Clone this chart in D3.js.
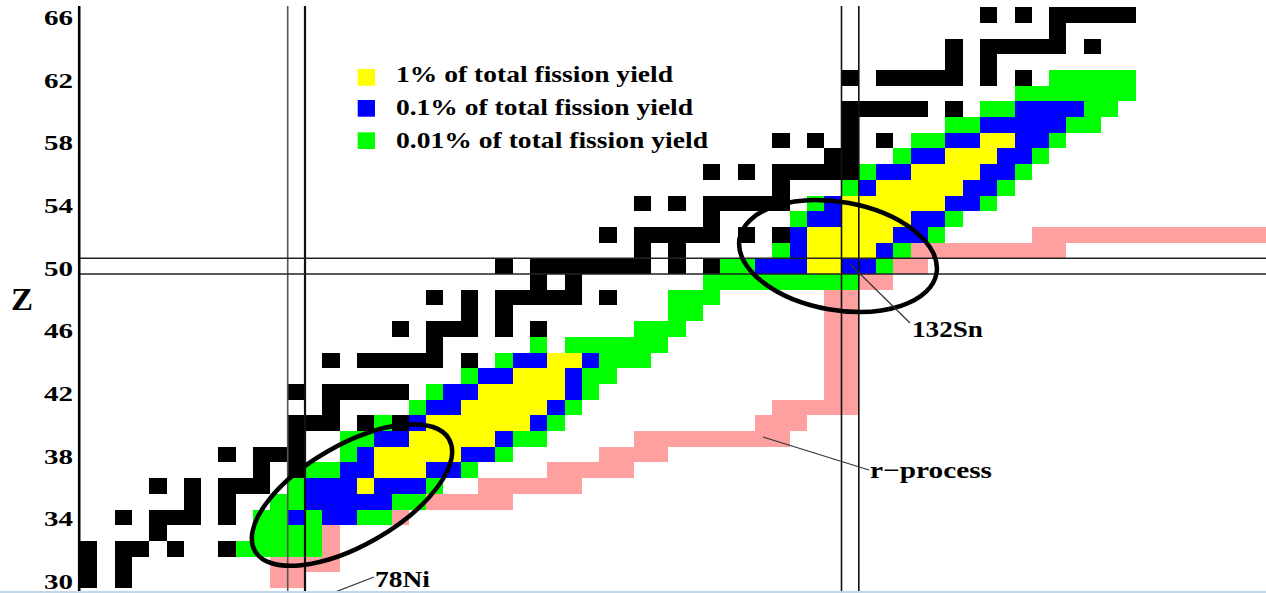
<!DOCTYPE html>
<html>
<head>
<meta charset="utf-8">
<script src="https://cdn.jsdelivr.net/npm/d3@7"></script>
<style>
  html, body { margin: 0; padding: 0; background: #fff; overflow: hidden; }
  svg { display: block; }
</style>
</head>
<body>
<svg id="chart" width="1266" height="593"></svg>
<script>
// ---- Data -------------------------------------------------------------
// Proton-number ticks on the left axis
const zTicks = [30, 34, 38, 42, 46, 50, 54, 58, 62, 66];

// Legend entries: fission-yield contour levels
const legendLabels = [
  "1% of total fission yield",
  "0.1% of total fission yield",
  "0.01% of total fission yield"
];

// Every run below is [Z, first N, last N] of contiguous cells in a row.

// Stable nuclides (black)
const stableRuns = [
  [30,38,38],[30,40,40],
  [31,38,38],[31,40,40],
  [32,38,38],[32,40,41],[32,43,43],[32,46,46],
  [33,42,42],
  [34,40,40],[34,42,44],[34,46,46],
  [35,44,44],[35,46,46],
  [36,42,42],[36,44,44],[36,46,48],
  [37,48,48],[37,50,50],
  [38,46,46],[38,48,50],
  [39,50,50],
  [40,50,52],[40,54,54],[40,56,56],
  [41,52,52],
  [42,50,50],[42,52,56],
  [44,52,52],[44,54,58],[44,60,60],
  [45,58,58],
  [46,56,56],[46,58,60],[46,62,62],[46,64,64],
  [47,60,60],[47,62,62],
  [48,58,58],[48,60,60],[48,62,66],[48,68,68],
  [49,64,64],[49,66,66],
  [50,62,62],[50,64,70],[50,72,72],[50,74,74],
  [51,70,70],[51,72,72],
  [52,68,68],[52,70,74],[52,76,76],[52,78,78],
  [53,74,74],
  [54,70,70],[54,72,72],[54,74,78],
  [55,78,78],
  [56,74,74],[56,76,76],[56,78,82],
  [57,81,82],
  [58,78,78],[58,80,80],[58,82,82],[58,84,84],
  [59,82,82],
  [60,82,86],[60,88,88],
  [62,82,82],[62,84,88],[62,90,90],[62,92,92],
  [63,88,88],[63,90,90],
  [64,88,88],[64,90,94],[64,96,96],
  [65,94,94],
  [66,90,90],[66,92,92],[66,94,98]
];

// r-process path (pink)
const rProcessRuns = [
  [30,49,50],[31,49,52],[32,52,52],[33,52,52],[34,52,56],
  [35,56,62],[36,61,66],[37,65,69],[38,68,71],[39,70,78],
  [40,77,79],[41,78,82],[42,81,82],[43,81,82],[44,81,82],
  [45,81,82],[46,81,82],[47,81,82],[48,81,82],[49,81,84],
  [50,85,86],[51,86,94],[52,93,106]
];

// Yield above 1% (yellow)
const yield1Runs = [
  [36,54,54],[37,55,57],[38,55,59],[39,57,61],[40,58,63],
  [41,60,64],[42,61,65],[43,63,65],[44,65,66],
  [50,80,81],[51,80,83],[52,80,84],[53,82,85],[54,82,87],
  [55,84,88],[56,86,89],[57,88,90],[58,90,91]
];

// Yield above 0.1% (blue)
const yield01Runs = [
  [34,50,50],[34,52,53],
  [35,51,55],
  [36,51,53],[36,55,57],
  [37,53,54],[37,58,59],
  [38,54,54],[38,60,61],
  [39,55,56],[39,62,62],
  [40,57,57],[40,64,64],
  [41,58,59],[41,65,65],
  [42,59,60],[42,66,66],
  [43,61,62],[43,66,66],
  [44,63,64],[44,67,67],
  [50,77,79],[50,82,83],
  [51,79,79],[51,84,84],
  [52,79,79],[52,85,86],
  [53,80,81],[53,86,87],
  [54,81,81],[54,88,89],
  [55,83,83],[55,89,90],
  [56,84,85],[56,90,91],
  [57,86,87],[57,91,92],
  [58,88,89],[58,92,93],
  [59,90,94],
  [60,92,95]
];

// Yield above 0.01% (green)
const yield001Runs = [
  [32,47,51],
  [33,48,51],
  [34,48,49],[34,51,51],[34,54,55],
  [35,49,50],[35,56,57],
  [36,50,50],[36,58,58],
  [37,51,52],[37,60,60],
  [38,53,53],[38,62,62],
  [39,53,54],[39,63,64],
  [40,55,55],[40,65,65],
  [41,57,57],[41,66,66],
  [42,58,58],[42,67,67],
  [43,60,60],[43,67,68],
  [44,62,62],[44,68,70],
  [45,64,64],[45,66,71],
  [46,70,72],
  [47,72,73],
  [48,72,74],
  [49,74,82],
  [50,75,76],[50,84,84],
  [51,78,78],[51,85,85],
  [52,87,87],
  [53,79,79],[53,88,88],
  [54,80,80],[54,90,90],
  [55,82,82],[55,91,91],
  [56,83,83],[56,92,92],
  [57,85,85],[57,93,93],
  [58,86,87],[58,94,94],
  [59,88,89],[59,95,96],
  [60,90,91],[60,96,97],
  [61,92,98],
  [62,94,98]
];

// Magic numbers marked with double lines
const magicN = [50, 82];
const magicZ = [50];

// ---- Layout -----------------------------------------------------------
const W = 1266, H = 593;
const svg = d3.select("#chart");
const serif = "'Liberation Serif', 'Times New Roman', Times, serif";

const colors = {
  stable: "#000000",
  rprocess: "#ffa0a0",
  y1: "#ffff00",
  y01: "#0000ff",
  y001: "#00ff00"
};

// N -> left edge of a cell, Z -> bottom edge of a cell
const x = d3.scaleLinear().domain([50, 82]).range([287.7, 841.5]);
const y = d3.scaleLinear().domain([30, 67]).range([588, 7.1]);

svg.append("rect").attr("width", W).attr("height", H).attr("fill", "#fff");

function drawRuns(runs, color, cls) {
  svg.append("g").attr("class", cls)
    .selectAll("rect").data(runs).join("rect")
    .attr("x", d => x(d[1]))
    .attr("y", d => y(d[0] + 1))
    .attr("width", d => x(d[2] + 1) - x(d[1]))
    .attr("height", d => y(d[0]) - y(d[0] + 1))
    .attr("fill", color)
    .attr("shape-rendering", "crispEdges");
}

drawRuns(rProcessRuns, colors.rprocess, "rprocess");
drawRuns(stableRuns, colors.stable, "stable");
drawRuns(yield001Runs, colors.y001, "yield-001");
drawRuns(yield01Runs, colors.y01, "yield-01");
drawRuns(yield1Runs, colors.y1, "yield-1");

// Magic-number boundaries
const magic = svg.append("g").attr("class", "magic");
magicN.forEach(n => {
  [n, n + 1].forEach((e, i) => {
    magic.append("line")
      .attr("x1", x(e)).attr("x2", x(e))
      .attr("y1", 6).attr("y2", H)
      .attr("stroke", (n === 50 && i === 0) ? "#555" : "#111")
      .attr("stroke-width", (n === 50 && i === 1) ? 2.2 : 1.6);
  });
});
magicZ.forEach(z => {
  [z, z + 1].forEach(e => {
    magic.append("line")
      .attr("x1", 80).attr("x2", W)
      .attr("y1", y(e)).attr("y2", y(e))
      .attr("stroke", "#222")
      .attr("stroke-width", 1.6);
  });
});

// Left axis
svg.append("line")
  .attr("x1", 79.2).attr("x2", 79.2)
  .attr("y1", 6).attr("y2", H)
  .attr("stroke", "#000").attr("stroke-width", 2.6);

const yMid = d3.scaleLinear().domain([30, 66])
  .range([(y(30) + y(31)) / 2 + 1.5, (y(66) + y(67)) / 2 + 3]);
const gAxis = svg.append("g")
  .attr("transform", "translate(73,0)")
  .call(d3.axisLeft(yMid).tickValues(zTicks).tickSize(0).tickPadding(0));
gAxis.select(".domain").remove();
gAxis.selectAll("text")
  .attr("font-family", serif)
  .attr("font-size", 21)
  .attr("font-weight", "bold")
  .attr("fill", "#000")
  .attr("textLength", 29)
  .attr("lengthAdjust", "spacingAndGlyphs");

svg.append("text")
  .attr("x", 11).attr("y", 310)
  .attr("font-family", serif).attr("font-size", 32).attr("font-weight", "bold")
  .attr("textLength", 22).attr("lengthAdjust", "spacingAndGlyphs")
  .text("Z");

// Circled regions around 78Ni and 132Sn
svg.append("ellipse")
  .attr("cx", 0).attr("cy", 0).attr("rx", 112).attr("ry", 50)
  .attr("transform", "translate(352,495) rotate(-30)")
  .attr("fill", "none").attr("stroke", "#000").attr("stroke-width", 4.5);
svg.append("ellipse")
  .attr("cx", 0).attr("cy", 0).attr("rx", 100).attr("ry", 54)
  .attr("transform", "translate(838,256) rotate(10)")
  .attr("fill", "none").attr("stroke", "#000").attr("stroke-width", 4.5);

// Annotations with leader lines
const notes = [
  { text: "132Sn", tx: 912, ty: 337, len: 71, from: [850, 264], to: [910, 323] },
  { text: "78Ni", tx: 375, ty: 587, len: 55, from: [330, 594], to: [374, 577] },
  { text: "r\u2212process", tx: 870, ty: 478, len: 122, from: [763, 437], to: [869, 470] }
];
notes.forEach(n => {
  svg.append("line")
    .attr("x1", n.from[0]).attr("y1", n.from[1])
    .attr("x2", n.to[0]).attr("y2", n.to[1])
    .attr("stroke", "#333").attr("stroke-width", 1.2);
  svg.append("text")
    .attr("x", n.tx).attr("y", n.ty)
    .attr("font-family", serif).attr("font-size", 23).attr("font-weight", "bold")
    .attr("textLength", n.len).attr("lengthAdjust", "spacingAndGlyphs")
    .text(n.text);
});

// Legend
const legendColors = [colors.y1, colors.y01, colors.y001];
const legendBoxY = [69, 100, 132.3];
const legendBaseY = [81.5, 114.5, 148];
const legendLen = [277, 297, 312];
const legend = svg.append("g").attr("class", "legend");
legendLabels.forEach((label, i) => {
  legend.append("rect")
    .attr("x", 357.7).attr("y", legendBoxY[i])
    .attr("width", 17.3).attr("height", 16.7)
    .attr("fill", legendColors[i]);
  legend.append("text")
    .attr("x", 396).attr("y", legendBaseY[i])
    .attr("font-family", serif).attr("font-size", 23).attr("font-weight", "bold")
    .attr("textLength", legendLen[i]).attr("lengthAdjust", "spacingAndGlyphs")
    .text(label);
});

// Frame edge along the bottom
svg.append("rect")
  .attr("x", 0).attr("y", 591).attr("width", W).attr("height", 2)
  .attr("fill", "#c4d7ea");
</script>
</body>
</html>
